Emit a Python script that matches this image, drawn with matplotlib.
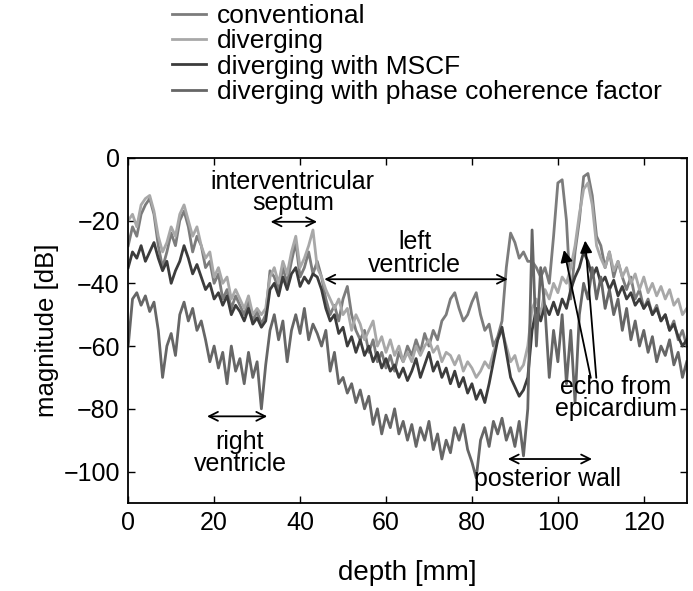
import numpy as np
import matplotlib
matplotlib.use("Agg")
import matplotlib.pyplot as plt

plt.rcParams['font.family'] = ['Liberation Sans', 'DejaVu Sans']

# depth samples [mm]
depth = list(range(131))

conventional = [
    -28, -22, -25, -18, -15, -13, -18, -28, -35, -30,
    -24, -28, -20, -17, -22, -30, -25, -28, -35, -33,
    -40, -37, -45, -42, -48, -44, -47, -50, -46, -52,
    -49, -53, -50, -36, -38, -42, -35, -40, -33, -27,
    -38, -35, -30, -37, -33, -38, -45, -50, -47, -52,
    -45, -41, -50, -55, -58, -55, -62, -58, -65, -62,
    -67, -63, -68, -62, -65, -60, -63, -58, -62, -56,
    -60, -55, -58, -52, -50, -45, -43, -48, -52, -50,
    -46, -43, -50, -55, -53, -60, -57, -52, -35, -24,
    -27, -32, -30, -33, -33, -35, -38, -35, -40, -25,
    -8, -7, -20, -45, -30, -20, -6, -5, -12, -25,
    -28, -35, -30, -38, -33, -38, -42, -38, -45, -42,
    -48, -45, -50, -47, -52, -50, -55, -52, -58, -55,
    -60]

diverging = [
    -20, -18, -22, -15, -13, -12, -17, -25, -30, -27,
    -22, -25, -18, -15, -20, -25, -22, -28, -32, -30,
    -38, -35, -40, -38, -45, -42, -45, -48, -44, -50,
    -48, -50, -48, -38, -35, -40, -33, -37, -30, -25,
    -35, -32, -28, -23, -35, -38, -42, -45, -48, -45,
    -50, -48, -55, -50, -53, -58, -55, -52, -60, -57,
    -62, -58, -63, -60, -65, -62, -65, -60, -63, -60,
    -58, -62, -60, -65, -62, -63, -66, -63, -68, -65,
    -67, -70, -68, -65, -67, -62, -58, -55, -60, -65,
    -63, -68, -66, -60, -48, -45, -50, -42, -45, -40,
    -43, -38, -40, -35, -28, -18, -10, -8, -15, -28,
    -32, -35, -30, -36, -33, -38, -35, -40, -37, -42,
    -38, -43, -40, -44, -41, -45, -42, -47, -45, -50,
    -48]

mscf = [
    -35, -30, -32, -28, -33, -30, -27, -32, -36, -33,
    -40, -36, -33, -28, -32, -37, -34, -38, -42, -40,
    -45, -43, -47, -44, -50, -47, -49, -52, -48, -53,
    -51, -54, -52, -42, -40, -44, -38, -42, -37, -35,
    -41, -38, -40, -37, -38, -42, -48, -52, -50, -56,
    -54, -60, -57, -62, -58, -63, -60, -65, -62, -67,
    -64, -68, -66, -70, -67, -71, -68, -64, -70, -66,
    -62, -68, -65, -70, -67, -72, -68, -73, -70, -75,
    -72, -77, -74, -78, -72, -65, -58, -54, -62, -70,
    -73, -76, -74, -70, -55, -48, -52, -47, -50, -46,
    -50, -45, -48, -42, -38, -35, -30, -33, -38, -35,
    -40, -38, -42, -39, -44, -41, -45, -43, -47, -45,
    -48, -46, -50, -48, -52, -50, -55, -53, -57, -60,
    -58]

pcf = [
    -60, -45, -43, -47, -44, -49, -46, -55, -70, -60,
    -56, -63, -50, -46, -52, -48, -55, -52, -58, -65,
    -60, -67, -62, -72, -60, -68, -64, -72, -62, -70,
    -65, -80, -66, -55, -50, -58, -52, -65, -55, -50,
    -56, -48, -58, -53, -56, -60, -55, -68, -62, -72,
    -70, -75, -72, -78, -74, -80, -76, -85, -80, -88,
    -82, -86, -80, -88, -84, -90, -85, -92, -86, -90,
    -84, -93, -88, -96, -90, -94, -86, -90, -85, -93,
    -97, -102, -90, -86, -92, -84, -88, -83, -90, -86,
    -92, -84, -95, -80, -23, -60, -35, -48, -70, -55,
    -65, -50, -72, -55, -78, -50, -40, -45, -35, -45,
    -38, -48, -42, -50, -45, -55, -48, -58, -52, -60,
    -55, -62, -57, -65, -60, -63, -58, -66, -62, -70,
    -65]

fig = plt.figure(figsize=(6.93, 5.91), dpi=100)
ax = fig.add_axes([0.185, 0.149, 0.806, 0.584])

lw = 2.0
l1, = ax.plot(depth, conventional, color="#7c7c7c", lw=lw, label="conventional")
l2, = ax.plot(depth, diverging, color="#a8a8a8", lw=lw, label="diverging")
l3, = ax.plot(depth, mscf, color="#3c3c3c", lw=lw, label="diverging with MSCF")
l4, = ax.plot(depth, pcf, color="#666666", lw=lw, label="diverging with phase coherence factor")

ax.set_xlim(0, 130)
ax.set_ylim(-110, 0)
ax.set_xticks([0, 20, 40, 60, 80, 100, 120])
ax.set_yticks([0, -20, -40, -60, -80, -100])
ax.tick_params(direction="in", top=True, right=True, labelsize=18, length=5, width=1, pad=6)
for s in ax.spines.values():
    s.set_linewidth(1.3)
ax.set_xlabel("depth [mm]", fontsize=20, labelpad=18)
ax.set_ylabel("magnitude [dB]", fontsize=18.5, labelpad=3)

fig.legend(handles=[l1, l2, l3, l4], loc="upper left", bbox_to_anchor=(0.225, 1.02),
           frameon=False, fontsize=19, handlelength=1.3, handletextpad=0.4,
           labelspacing=0.05, borderpad=0.1)

# annotations
fs = 18
arr = dict(arrowstyle="<->", color="black", lw=1.3, mutation_scale=16)
ax.text(38.3, -11, "interventricular\nseptum", ha="center", va="center", fontsize=fs, linespacing=0.82)
ax.annotate("", xy=(32.5, -20.4), xytext=(44.6, -20.4), arrowprops=arr)
ax.text(66.7, -30.5, "left\nventricle", ha="center", va="center", fontsize=fs, linespacing=0.95)
ax.annotate("", xy=(45, -38.7), xytext=(89, -38.7), arrowprops=arr)
ax.text(26, -94, "right\nventricle", ha="center", va="center", fontsize=fs, linespacing=0.9)
ax.annotate("", xy=(17.7, -82.4), xytext=(33, -82.4), arrowprops=arr)
ax.text(97.7, -102.5, "posterior wall", ha="center", va="center", fontsize=fs)
ax.annotate("", xy=(87.7, -96), xytext=(108.6, -96), arrowprops=arr)
ax.text(113.5, -76.5, "echo from\nepicardium", ha="center", va="center", fontsize=fs, linespacing=0.9)
ax.annotate("", xy=(101.3, -28.5), xytext=(107.8, -71),
            arrowprops=dict(arrowstyle="-|>", color="black", lw=1.3, mutation_scale=18))
ax.annotate("", xy=(106.3, -25.5), xytext=(109.0, -71),
            arrowprops=dict(arrowstyle="-|>", color="black", lw=1.3, mutation_scale=18))

fig.savefig("out.png", dpi=100)
